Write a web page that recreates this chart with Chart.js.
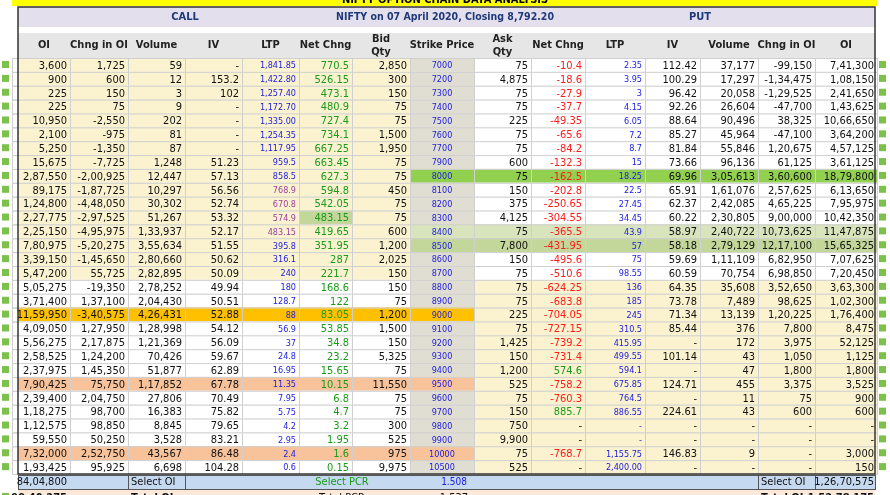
<!DOCTYPE html>
<html><head><meta charset="utf-8">
<script src="https://cdn.jsdelivr.net/npm/chart.js@4"></script>
<style>html,body{margin:0;padding:0;background:#fff}#wrap{width:890px;height:495px}</style>
</head><body><div id="wrap"><canvas id="c" width="890" height="495"></canvas></div>
<script>
const strikes=["7000","7200","7300","7400","7500","7600","7700","7900","8000","8100","8200","8300","8400","8500","8600","8700","8800","8900","9000","9100","9200","9300","9400","9500","9600","9700","9800","9900","10000","10500"];
const callOI=["3,600","900","225","225","10,950","2,100","5,250","15,675","2,87,550","89,175","1,24,800","2,27,775","2,25,150","7,80,975","3,39,150","5,47,200","5,05,275","3,71,400","11,59,950","4,09,050","5,56,275","2,58,525","2,37,975","7,90,425","2,39,400","1,18,275","1,12,575","59,550","7,32,000","1,93,425"];
const callChg=["1,725","600","150","75","-2,550","-975","-1,350","-7,725","-2,00,925","-1,87,725","-4,48,050","-2,97,525","-4,95,975","-5,20,275","-1,45,650","55,725","-19,350","1,37,100","-3,40,575","1,27,950","2,17,875","1,24,200","1,45,350","75,750","2,04,750","98,700","98,850","50,250","2,52,750","95,925"];
const callVol=["59","12","3","9","202","81","87","1,248","12,447","10,297","30,302","51,267","1,33,937","3,55,634","2,80,660","2,82,895","2,78,252","2,04,430","4,26,431","1,28,998","1,21,369","70,426","51,877","1,17,852","27,806","16,383","8,845","3,528","43,567","6,698"];
const callIV=["-","153.2","102","-","-","-","-","51.23","57.13","56.56","52.74","53.32","52.17","51.55","50.62","50.09","49.94","50.51","52.88","54.12","56.09","59.67","62.89","67.78","70.49","75.82","79.65","83.21","86.48","104.28"];
const callLTP=["1,841.85","1,422.80","1,257.40","1,172.70","1,335.00","1,254.35","1,117.95","959.5","858.5","768.9","670.8","574.9","483.15","395.8","316.1","240","180","128.7","88","56.9","37","24.8","16.95","11.35","7.95","5.75","4.2","2.95","2.4","0.6"];
const callNet=["770.5","526.15","473.1","480.9","727.4","734.1","667.25","663.45","627.3","594.8","542.05","483.15","419.65","351.95","287","221.7","168.6","122","83.05","53.85","34.8","23.2","15.65","10.15","6.8","4.7","3.2","1.95","1.6","0.15"];
const bidQty=["2,850","300","150","75","75","1,500","1,950","75","75","450","75","75","600","1,200","2,025","150","150","75","1,200","1,500","150","5,325","75","11,550","75","75","300","525","975","9,975"];
const askQty=["75","4,875","75","75","225","75","75","600","75","150","375","4,125","75","7,800","150","75","75","75","225","75","1,425","150","1,200","525","75","150","750","9,900","75","525"];
const putNet=["-10.4","-18.6","-27.9","-37.7","-49.35","-65.6","-84.2","-132.3","-162.5","-202.8","-250.65","-304.55","-365.5","-431.95","-495.6","-510.6","-624.25","-683.8","-704.05","-727.15","-739.2","-731.4","574.6","-758.2","-760.3","885.7","-","-","-768.7","-"];
const putLTP=["2.35","3.95","3","4.15","6.05","7.2","8.7","15","18.25","22.5","27.45","34.45","43.9","57","75","98.55","136","185","245","310.5","415.95","499.55","594.1","675.85","764.5","886.55","-","-","1,155.75","2,400.00"];
const putIV=["112.42","100.29","96.42","92.26","88.64","85.27","81.84","73.66","69.96","65.91","62.37","60.22","58.97","58.18","59.69","60.59","64.35","73.78","71.34","85.44","-","101.14","-","124.71","-","224.61","-","-","146.83","-"];
const putVol=["37,177","17,297","20,058","26,604","90,496","45,964","55,846","96,136","3,05,613","1,61,076","2,42,085","2,30,805","2,40,722","2,79,129","1,11,109","70,754","35,608","7,489","13,139","376","172","43","47","455","11","43","-","-","9","-"];
const putChg=["-99,150","-1,34,475","-1,29,525","-47,700","38,325","-47,100","1,20,675","61,125","3,60,600","2,57,625","4,65,225","9,00,000","10,73,625","12,17,100","6,82,950","6,98,850","3,52,650","98,625","1,20,225","7,800","3,975","1,050","1,800","3,375","75","600","-","-","-","-"];
const putOI=["7,41,300","1,08,150","2,41,650","1,43,625","10,66,650","3,64,200","4,57,125","3,61,125","18,79,800","6,13,650","7,95,975","10,42,350","11,47,875","15,65,325","7,07,625","7,20,450","3,63,300","1,02,300","1,76,400","8,475","52,125","1,125","1,800","3,525","900","600","-","-","3,000","150"];
const headers=["OI","Chng in OI","Volume","IV","LTP","Net Chng","Bid\nQty","Strike Price","Ask\nQty","Net Chng","LTP","IV","Volume","Chng in OI","OI"];
const title="NIFTY OPTION CHAIN DATA ANALYSIS";
const subtitle="NIFTY on 07 April 2020, Closing 8,792.20";
const spot=8792.20;
const selectTotals=["84,04,800","1.508","1,26,70,575"];
const grandTotals=["99,40,275","1.537","1,52,78,175"];

const E=[12,70,128,185,242,299,352,410,474,531,585,645,700,758,815,877];
const F="'Liberation Sans Narrow','DejaVu Sans Condensed','Arial Narrow',sans-serif";
const cols=[callOI,callChg,callVol,callIV,callLTP,callNet,bidQty,strikes,askQty,putNet,putLTP,putIV,putVol,putChg,putOI];

const plugin={id:'tbl',afterDraw(ch){
  const c=ch.ctx, ys=ch.scales.y;
  const rh=ys.getPixelForValue(1)-ys.getPixelForValue(0);
  c.save();
  const rect=(x,y,w,h,col)=>{c.fillStyle=col;c.fillRect(x,y,w,h);};
  const txt=(t,x,y,al,col,sz,bold)=>{c.fillStyle=col;c.textAlign=al;c.textBaseline='middle';c.font=(bold?'bold ':'')+sz+'px '+F;c.fillText(t,x,y);};
  rect(12,0,865,6,'#ffff00');
  txt(title,445,0,'center','#000',11,true);
  rect(18,7,857,20,'#e4dfec');
  txt('CALL',185,17,'center','#1f3a7a',11,true);
  txt(subtitle,445,17,'center','#1f3a7a',10.5,true);
  txt('PUT',700,17,'center','#1f3a7a',11,true);
  rect(18,33,857,25,'#e6e6e6');
  for(let j=0;j<15;j++){
    const cx=(E[j]+E[j+1])/2; const lines=headers[j].split('\n');
    if(lines.length==2){txt(lines[0],cx,39,'center','#222',11,true);txt(lines[1],cx,52,'center','#222',11,true);}
    else txt(lines[0],cx+(j==0?3:0),45,'center','#222',11,true);
  }
  for(let i=0;i<strikes.length;i++){
    const yc=ys.getPixelForValue(i), y0=yc-rh/2, k=+strikes[i];
    const callITM=k<spot;
    let lbg=callITM?'#fbf3cf':'#ffffff', rbg=callITM?'#ffffff':'#fbf3cf', sbg='#e0ddd2';
    if(k==9000){lbg='#ffc000';sbg='#ffc000';}
    if(k==9500||k==10000){lbg='#f8c39a';sbg='#f8c39a';}
    if(k==8000){rbg='#92d050';sbg='#92d050';}
    if(k==8400){rbg='#d8e4bc';sbg='#d8e4bc';}
    if(k==8500){rbg='#c4d79b';sbg='#c4d79b';}
    rect(18,y0,E[7]-18,rh,lbg);
    rect(E[7],y0,E[8]-E[7],rh,sbg);
    rect(E[8],y0,E[15]-E[8],rh,rbg);
    if(k==8300) rect(E[5],y0,E[6]-E[5],rh,'#c4d79b');
    c.strokeStyle='#d0d0d0';c.lineWidth=1;
    for(let j=0;j<15;j++){c.strokeRect(E[j]+0.5,y0+0.5,E[j+1]-E[j],rh);}
    for(let j=0;j<15;j++){
      const v=cols[j][i]; let col='#111', sz=11, al='right', x=E[j+1]-3;
      if(j==4||j==10){col=(j==4&&k>=8100&&k<=8400)?'#9b3f9b':'#2020e0';sz=9;}
      if(j==5)col='#1a9a1a';
      if(j==9)col=v.startsWith('-')&&v!='-'?'#ff1a1a':(v=='-'?'#111':'#1a9a1a');
      if(j==7){col='#2020e0';sz=9;al='center';x=(E[7]+E[8])/2;}
      txt(v,x,yc+1,al,col,sz);
    }
    rect(2,y0+3,7,7,'#7cc24a');rect(879,y0+3,7,7,'#7cc24a');
  }
  const last=ys.getPixelForValue(strikes.length-1)+rh/2;
  c.strokeStyle='#333';c.lineWidth=1.5;c.strokeRect(18,7,857,last-7);
  let y0=last+1;
  rect(18,y0,857,14,'#c5d9f1');c.strokeStyle='#555';c.lineWidth=1;c.strokeRect(18.5,y0+0.5,857,14);
  [E[2],E[3],E[13],E[14]].forEach(x=>{c.beginPath();c.moveTo(x+.5,y0);c.lineTo(x+.5,y0+14);c.stroke();});
  let yc=y0+7.5;
  txt(selectTotals[0],E[1]-3,yc,'right','#111',11);
  txt('Select OI',E[2]+3,yc,'left','#111',11);
  txt('Select PCR',E[6]-10,yc,'center','#1a9a1a',11);
  txt(selectTotals[1],E[8]-20,yc,'center','#2020e0',10);
  txt('Select OI',E[13]+3,yc,'left','#111',11);
  txt(selectTotals[2],E[15]-3,yc,'right','#111',11);
  y0+=15;
  rect(18,y0,857,20,'#fde9d9');
  yc=y0+8;
  txt(grandTotals[0],E[1]-3,yc,'right','#111',11,true);
  txt('Total OI',E[2]+3,yc,'left','#111',11,true);
  txt('Total PCR',E[6]-10,yc,'center','#111',11);
  txt(grandTotals[1],E[8]-20,yc,'center','#111',11);
  txt('Total OI',E[13]+3,yc,'left','#111',11,true);
  txt(grandTotals[2],E[15]-3,yc,'right','#111',11,true);
  rect(2,y0+3,7,7,'#7cc24a');
  c.restore();
}};
new Chart(document.getElementById('c'),{
  type:'bar',
  data:{labels:strikes,datasets:[{data:[]}]},
  options:{responsive:false,animation:false,events:[],
    layout:{padding:{top:58,bottom:21,left:0,right:0}},
    plugins:{legend:{display:false},tooltip:{enabled:false}},
    indexAxis:'y',
    scales:{y:{type:'category',offset:true,display:false,grid:{display:false}},x:{display:false}}
  },
  plugins:[plugin]
});
</script></body></html>
